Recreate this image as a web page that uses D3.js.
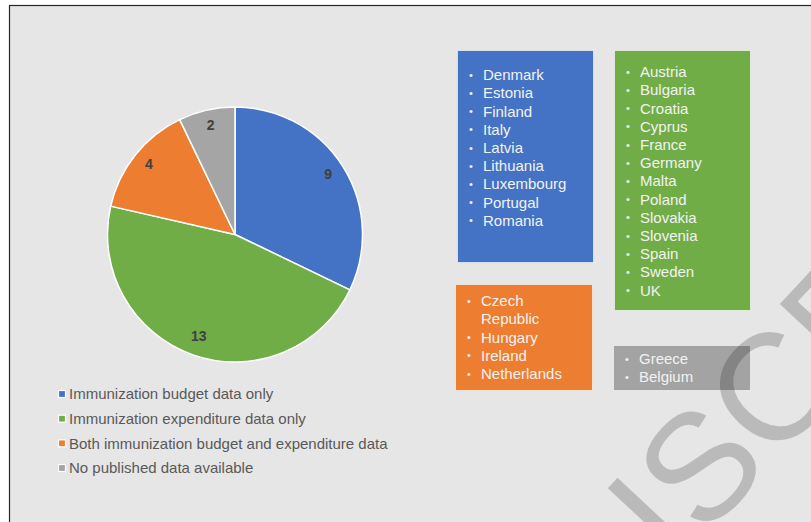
<!doctype html>
<html>
<head>
<meta charset="utf-8">
<title>Immunization budget and expenditure data</title>
<script src="https://cdn.jsdelivr.net/npm/d3@7"></script>
<style>
  html, body { margin: 0; padding: 0; background: #fff; }
  svg { display: block; font-family: "Liberation Sans", Arial, sans-serif; }
</style>
</head>
<body>
<script>

// data
var categories = [
  "Immunization budget data only",
  "Immunization expenditure data only",
  "Both immunization budget and expenditure data",
  "No published data available"
];
var counts = [9, 13, 4, 2];
var colors = ["#4472c4", "#70ad47", "#ed7d31", "#a5a5a5"];

var budgetOnly = ["Denmark", "Estonia", "Finland", "Italy", "Latvia", "Lithuania",
                  "Luxembourg", "Portugal", "Romania"];
var expenditureOnly = ["Austria", "Bulgaria", "Croatia", "Cyprus", "France", "Germany",
                       "Malta", "Poland", "Slovakia", "Slovenia", "Spain", "Sweden", "UK"];
var bothData = ["Czech Republic", "Hungary", "Ireland", "Netherlands"];
var noData = ["Greece", "Belgium"];

var W = 811, H = 522;

var svg = d3.select("body").append("svg")
    .attr("width", W)
    .attr("height", H);

// slide background + frame
svg.append("rect")
    .attr("x", 9.5).attr("y", 5.5)
    .attr("width", W).attr("height", H)
    .attr("fill", "#e6e6e6")
    .attr("stroke", "#262626")
    .attr("stroke-width", 1.2);

// ---- pie ----
var cx = 235, cy = 234.5, r = 127.5;

var pie = d3.pie().sort(null).value(function(d) { return d; });
var arc = d3.arc().innerRadius(0).outerRadius(r);
var labelArc = d3.arc().innerRadius(110).outerRadius(110);

var g = svg.append("g").attr("transform", "translate(" + cx + "," + cy + ")");

g.selectAll("path")
    .data(pie(counts))
    .enter().append("path")
    .attr("d", arc)
    .attr("fill", function(d, i) { return colors[i]; })
    .attr("stroke", "#fff")
    .attr("stroke-width", 1.5)
    .attr("stroke-linejoin", "round");

g.selectAll("text.lbl")
    .data(pie(counts))
    .enter().append("text")
    .attr("class", "lbl")
    .attr("transform", function(d) { return "translate(" + labelArc.centroid(d) + ")"; })
    .attr("text-anchor", "middle")
    .attr("dy", "0.2em")
    .attr("font-size", 14)
    .attr("font-weight", "bold")
    .attr("fill", "#404040")
    .text(function(d) { return d.data; });

// ---- legend ----
var legY = d3.scalePoint().domain(categories).range([394, 468]);

var leg = svg.append("g").selectAll("g")
    .data(categories)
    .enter().append("g")
    .attr("transform", function(d) { return "translate(58," + legY(d) + ")"; });

leg.append("rect")
    .attr("x", 0.5).attr("y", -3.5)
    .attr("width", 7).attr("height", 7)
    .attr("fill", function(d, i) { return colors[i]; })
    .attr("stroke", "#fff")
    .attr("stroke-width", 1.2);

leg.append("text")
    .attr("x", 11)
    .attr("dy", "0.35em")
    .attr("font-size", 15)
    .attr("fill", "#595959")
    .text(function(d) { return d; });

// ---- country boxes ----
var boxes = [
  { items: budgetOnly,      color: colors[0], x: 457, y: 50,  w: 136, h: 212, top: 75 },
  { items: expenditureOnly, color: colors[1], x: 614, y: 50,  w: 136, h: 260, top: 72 },
  { items: bothData,        color: colors[2], x: 455, y: 284, w: 137, h: 106, top: 301 },
  { items: noData,          color: "#a3a3a3", x: 613, y: 345, w: 137, h: 45,  top: 359 }
];
var lineH = 18.2;

boxes.forEach(function(b) {
  svg.append("rect")
      .attr("x", b.x + 0.5).attr("y", b.y + 0.5)
      .attr("width", b.w).attr("height", b.h)
      .attr("fill", b.color)
      .attr("stroke", "#f4f4f4")
      .attr("stroke-opacity", 0.7)
      .attr("stroke-width", 1);

  var line = 0;
  b.items.forEach(function(name) {
    var y = b.top + line * lineH;
    svg.append("text")
        .attr("x", b.x + 12).attr("y", y)
        .attr("dy", "0.35em")
        .attr("font-size", 11)
        .attr("fill", "#f2f2f2")
        .text("\u2022");

    // wrap long names inside the box
    var words = name.split(" "), cur = [];
    var t = svg.append("text")
        .attr("x", b.x + 26).attr("y", y)
        .attr("dy", "0.35em")
        .attr("font-size", 15)
        .attr("fill", "#f2f2f2");
    words.forEach(function(w) {
      cur.push(w);
      t.text(cur.join(" "));
      if (t.node().getComputedTextLength() > b.w - 40 && cur.length > 1) {
        cur.pop();
        t.text(cur.join(" "));
        line++;
        cur = [w];
        t = svg.append("text")
            .attr("x", b.x + 26).attr("y", b.top + line * lineH)
            .attr("dy", "0.35em")
            .attr("font-size", 15)
            .attr("fill", "#f2f2f2")
            .text(w);
      }
    });
    line++;
  });
});

// ---- watermark (runs off the slide edge, as in the original) ----
svg.append("text")
    .attr("transform", "translate(600,650) rotate(-47)")
    .attr("font-size", 152)
    .attr("fill", "#000")
    .attr("fill-opacity", 0.19)
    .text("DISCRETE");

</script>
</body>
</html>
